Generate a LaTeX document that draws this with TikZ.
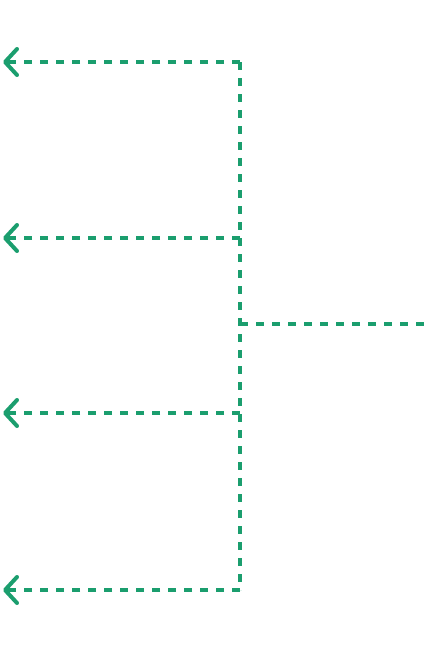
\documentclass[tikz,border=0pt]{standalone}
\usetikzlibrary{arrows.meta}
\definecolor{vert}{RGB}{27,158,110}
\tikzset{
  lien/.style={vert, line width=3.5pt, dash pattern=on 8pt off 8pt},
  fleche/.style={lien, -{Straight Barb[length=12pt,width=26pt,line width=4pt,line cap=round,line join=round]}}
}
\begin{document}
\begin{tikzpicture}[x=1pt, y=-1pt]
    \useasboundingbox (0,0) rectangle (424,656);

    %tronc
    \coordinate (haut) at (240,62);
    \coordinate (b1) at (240,238);
    \coordinate (milieu) at (240,324);
    \coordinate (b2) at (240,413);
    \coordinate (bas) at (240,590);
    \coordinate (entree) at (424,324);
    \draw[lien] (haut) -- (bas);
    \draw[lien] (milieu) -- (entree);

    %sorties
    \coordinate (s0) at (3,62);
    \coordinate (s1) at (3,238);
    \coordinate (s2) at (3,413);
    \coordinate (s3) at (3,590);
    \draw[fleche] (haut) -- (s0);
    \draw[fleche] (b1) -- (s1);
    \draw[fleche] (b2) -- (s2);
    \draw[fleche] (bas) -- (s3);

\end{tikzpicture}
\end{document}
